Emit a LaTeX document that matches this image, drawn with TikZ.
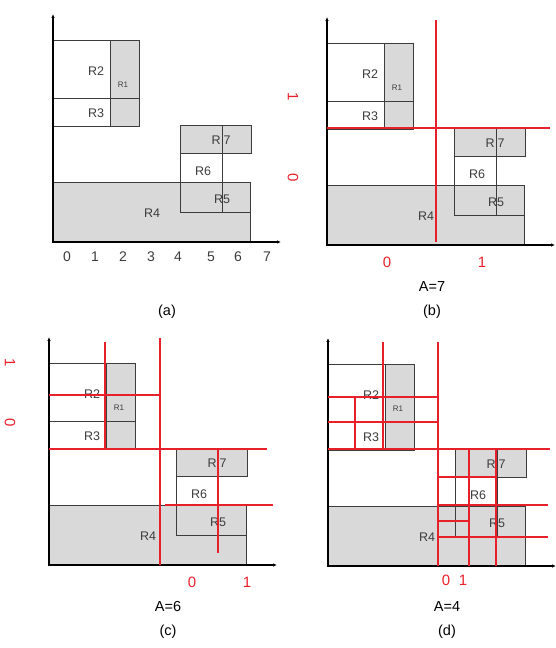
\documentclass[tikz,border=0pt]{standalone}
\usepackage{fontspec}
\setmainfont{Liberation Sans}
\usetikzlibrary{arrows.meta}

\definecolor{boxgray}{RGB}{217,217,217}
\definecolor{cutred}{RGB}{232,32,42}
\definecolor{inkgray}{RGB}{60,60,60}

\newcommand{\drawrects}[1]{%
                    \fill[boxgray] (57,115) rectangle (86,201);
                    \fill[boxgray] (0,0) rectangle (197,59);
                    \fill[boxgray] (127,88) rectangle (198,116);
                    \draw[edge] (0,115) rectangle (86,201);
                    \draw[edge] (57,115) -- (57,201);
                    \draw[edge] (0,143) -- (86,143);
                    \draw[edge] (0,0) rectangle (197,59);
                    \draw[edge] (127,29) rectangle (197,59);
                    \draw[edge] (127,59) rectangle (169,88);
                    \draw[edge] (127,88) rectangle (198,116);
                    \draw[edge] (169,29) -- (169,116);
                    \coordinate (#1o) at (0,0);
                    \coordinate (#1y) at (0,228);
                    \coordinate (#1x) at (228,0);
                    \draw[axis] (#1y) -- (#1o) -- (#1x);
                    \node[rname] (#1r2) at (43,171) {R2};
                    \node[rname,font=\fontsize{8}{9}\selectfont] (#1r1) at (70,157) {R1};
                    \node[rname] (#1r3) at (43,129) {R3};
                    \node[rname] (#1r7) at (168,102) {R\hspace{3pt}7};
                    \node[rname] (#1r6) at (150,71) {R6};
                    \node[rname] (#1r5) at (169,43) {R5};
                    \node[rname] (#1r4) at (99,29) {R4};
}

\begin{document}
\begin{tikzpicture}[x=1pt,y=1pt,
                    edge/.style={draw=inkgray,line width=1pt},
                    axis/.style={black,line width=1.3pt,{Latex[length=4pt,width=3.5pt]}-{Latex[length=4pt,width=3.5pt]}},
                    cut/.style={cutred,line width=1.3pt},
                    rname/.style={inkgray,inner sep=0pt,font=\fontsize{12.5}{14}\selectfont},
                    tick/.style={inkgray,inner sep=0pt,font=\fontsize{14}{16}\selectfont},
                    bit/.style={cutred,inner sep=0pt,font=\fontsize{15}{17}\selectfont},
                    capt/.style={black,inner sep=0pt,font=\fontsize{14.5}{17}\selectfont}]
                    \useasboundingbox (0,0) rectangle (555,648);

                    % (a)
                    \begin{scope}[shift={(53,406)}]
                    \drawrects{a}
                    \foreach \k/\xx in {0/14,1/42,2/70,3/98,4/125,5/158,6/185,7/214}
                        \node[tick] (at\k) at (\xx,-15) {\k};
                    \node[capt] (capa) at (114,-70) {(a)};
                    \end{scope}

                    % (b)
                    \begin{scope}[shift={(327,403)}]
                    \drawrects{b}
                    \draw[cut] (109,225) -- (109,3);
                    \draw[cut] (0,117) -- (223,117);
                    \node[bit,rotate=-90] (bl1) at (-34,148) {1};
                    \node[bit,rotate=-90] (bl0) at (-34,67) {0};
                    \node[bit] (bb0) at (60,-17) {0};
                    \node[bit] (bb1) at (155,-17) {1};
                    \node[capt] (areab) at (105,-42) {A=7};
                    \node[capt] (capb) at (105,-67) {(b)};
                    \end{scope}

                    % (c)
                    \begin{scope}[shift={(49,83)}]
                    \drawrects{c}
                    \draw[cut] (111,227) -- (111,0);
                    \draw[cut] (56,223) -- (56,117);
                    \draw[cut] (0,116) -- (218,116);
                    \draw[cut] (0,170) -- (111,170);
                    \draw[cut] (169,116) -- (169,12);
                    \draw[cut] (116,60) -- (224,60);
                    \node[bit,rotate=-90] (cl1) at (-39,202) {1};
                    \node[bit,rotate=-90] (cl0) at (-39,142) {0};
                    \node[bit] (cb0) at (143,-17) {0};
                    \node[bit] (cb1) at (198,-17) {1};
                    \node[capt] (areac) at (119,-42) {A=6};
                    \node[capt] (capc) at (119,-67) {(c)};
                    \end{scope}

                    % (d)
                    \begin{scope}[shift={(328,82)}]
                    \drawrects{d}
                    \draw[cut] (55,224) -- (55,117);
                    \draw[cut] (110,224) -- (110,0);
                    \draw[cut] (0,117) -- (222,117);
                    \draw[cut] (0,169) -- (110,169);
                    \draw[cut] (0,144) -- (110,144);
                    \draw[cut] (27,169) -- (27,117);
                    \draw[cut] (141,117) -- (141,0);
                    \draw[cut] (168,117) -- (168,0);
                    \draw[cut] (110,89) -- (168,89);
                    \draw[cut] (110,61) -- (220,61);
                    \draw[cut] (110,45) -- (141,45);
                    \draw[cut] (110,29) -- (220,29);
                    \node[bit] (db0) at (118,-14) {0};
                    \node[bit] (db1) at (135,-14) {1};
                    \node[capt] (aread) at (119,-41) {A=4};
                    \node[capt] (capd) at (119,-66) {(d)};
                    \end{scope}
                \end{tikzpicture}
\end{document}
